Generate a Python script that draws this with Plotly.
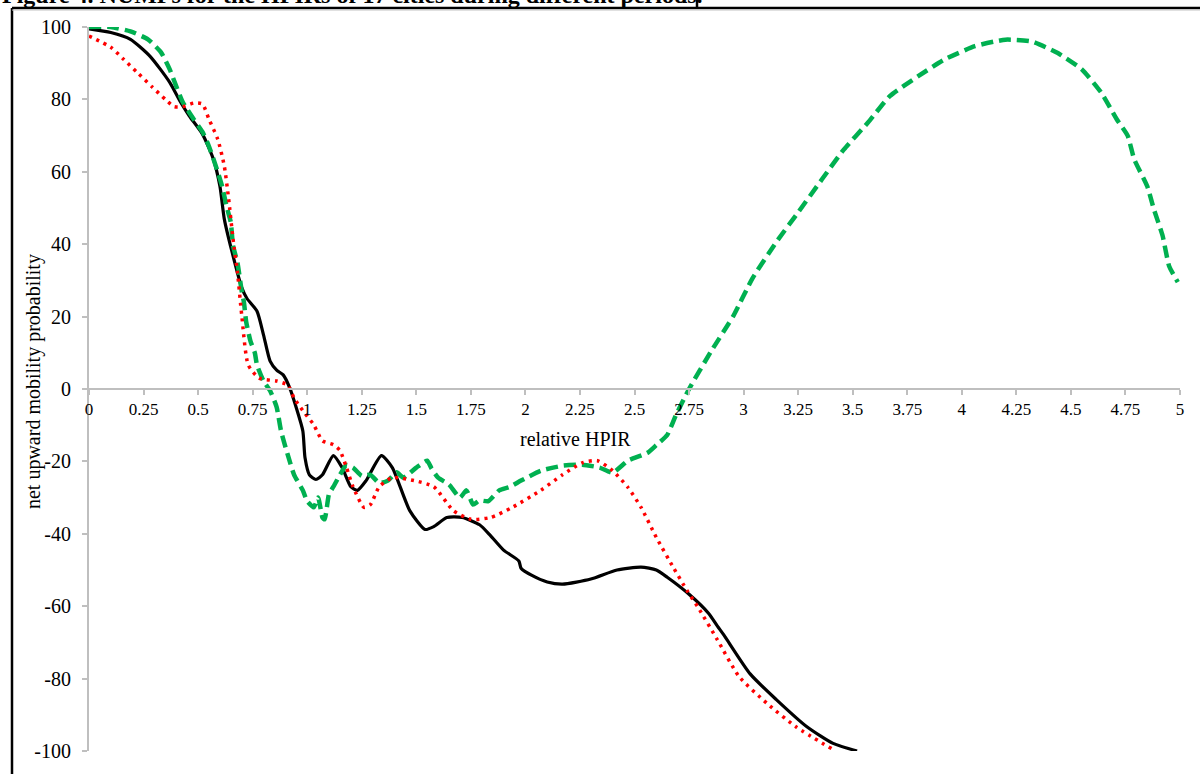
import plotly.graph_objects as go

# Net upward mobility probability (NUMP) against relative HPIR, three periods
black_x = [0, 0.1, 0.19, 0.28, 0.37, 0.42, 0.46, 0.52, 0.57, 0.60, 0.62, 0.655, 0.70, 0.724,
           0.77, 0.80, 0.83, 0.86, 0.89, 0.92, 0.95, 0.98, 0.99, 1.01, 1.04, 1.07, 1.12, 1.16,
           1.20, 1.23, 1.27, 1.34, 1.39, 1.47, 1.54, 1.58, 1.64, 1.71, 1.79, 1.84, 1.90, 1.97,
           1.98, 2.03, 2.10, 2.17, 2.30, 2.42, 2.53, 2.60, 2.65, 2.75, 2.84, 2.88, 2.91, 3.03,
           3.15, 3.29, 3.41, 3.52]
black_y = [99.5, 98.5, 96.6, 91.9, 84.7, 79.2, 75.4, 70.4, 63.5, 56, 47, 38, 28, 25,
           21.5, 14.9, 7.7, 5.2, 3.9, 0.3, -5.2, -11.6, -19, -23.7, -25, -23.7, -18.4, -21.7,
           -27, -28, -25.3, -18.4, -21.7, -33.6, -38.8, -38, -35.5, -35.5, -37.5, -40.5, -44.5, -47.5,
           -49.5, -51.5, -53.3, -53.9, -52.5, -50, -49.2, -50, -52, -56.7, -62, -65.5, -68, -78.7,
           -85.8, -93.3, -97.9, -100]

red_x = [0, 0.1, 0.16, 0.22, 0.29, 0.35, 0.39, 0.43, 0.48, 0.52, 0.55, 0.59, 0.62, 0.64,
         0.66, 0.68, 0.70, 0.73, 0.78, 0.86, 0.91, 0.94, 0.98, 1.03, 1.07, 1.12, 1.15, 1.18,
         1.21, 1.26, 1.29, 1.33, 1.39, 1.49, 1.58, 1.67, 1.75, 1.84, 1.94, 2.07, 2.17, 2.26,
         2.33, 2.40, 2.47, 2.53, 2.60, 2.68, 2.74, 2.79, 2.88, 2.98, 3.11, 3.24, 3.41]
red_y = [97.5, 94.4, 91, 87.5, 83.4, 80, 78, 78, 79, 78.7, 74.5, 69, 61.6, 52.5,
         41.5, 32.5, 20.4, 6.6, 3, 2.2, 1.1, -2.5, -6, -9.9, -14.3, -15.4, -17, -21.7,
         -27, -32.7, -31.9, -27, -24.5, -25.3, -27, -33.6, -36, -35.5, -32.7, -28, -23.7, -20.4,
         -19.8, -22.6, -27.2, -32.7, -41, -49.5, -55.6, -60.2, -69.3, -79.5, -87, -93.3, -99.6]

green_x = [0, 0.1, 0.19, 0.27, 0.33, 0.37, 0.40, 0.43, 0.48, 0.52, 0.55, 0.59, 0.61, 0.63,
           0.65, 0.66, 0.68, 0.70, 0.71, 0.72, 0.74, 0.76, 0.77, 0.80, 0.83, 0.86, 0.88, 0.91,
           0.94, 0.98, 1.00, 1.03, 1.05, 1.07, 1.08, 1.10, 1.12, 1.15, 1.18, 1.21, 1.25, 1.29,
           1.33, 1.37, 1.41, 1.44, 1.50, 1.55, 1.57, 1.60, 1.65, 1.70, 1.73, 1.76, 1.79, 1.83,
           1.88, 1.93, 1.98, 2.07, 2.17, 2.26, 2.34, 2.40, 2.47, 2.56, 2.60, 2.65, 2.69, 2.75,
           2.85, 2.955, 3.04, 3.15, 3.25, 3.36, 3.46, 3.57, 3.67, 3.80, 3.92, 4.06, 4.20, 4.32,
           4.44, 4.55, 4.64, 4.71, 4.76, 4.79, 4.85, 4.88, 4.92, 4.95, 4.99]
green_y = [100, 100, 98.8, 96.6, 93, 88.3, 83.6, 79.2, 74.5, 71, 67, 60, 56, 50.6,
           46, 39.6, 35, 27, 24, 18.7, 13.2, 10, 6.6, 2.2, -0.5, -5, -11.6, -18,
           -23.7, -28, -31, -32.7, -30, -35.5, -36, -29, -27, -23.7, -21, -21.7, -24, -23.7,
           -26, -25.3, -23, -24.5, -21.7, -19.8, -22, -24.5, -26.4, -30, -28, -31.9, -30.8, -31,
           -28, -27, -25.3, -22.6, -21.2, -20.9, -21.7, -23.1, -19.8, -17.6, -15.5, -12.7, -7.2, 0,
           10.3, 20.4, 30.5, 40.6, 48.8, 58, 66.2, 73.6, 80.9, 86.4, 91, 94.7, 96.5, 96,
           92.8, 88.3, 81.8, 74.5, 70, 63.5, 56, 49.7, 42.4, 34, 29.5]

x_ticks = [0, 0.25, 0.5, 0.75, 1, 1.25, 1.5, 1.75, 2, 2.25, 2.5, 2.75, 3, 3.25, 3.5, 3.75,
           4, 4.25, 4.5, 4.75, 5]
x_tick_labels = ["0", "0.25", "0.5", "0.75", "1", "1.25", "1.5", "1.75", "2", "2.25", "2.5",
                 "2.75", "3", "3.25", "3.5", "3.75", "4", "4.25", "4.5", "4.75", "5"]
y_ticks = [-100, -80, -60, -40, -20, 0, 20, 40, 60, 80, 100]
y_tick_labels = ["-100", "-80", "-60", "-40", "-20", "0", "20", "40", "60", "80", "100"]

SERIF = "Liberation Serif, Times New Roman, serif"
AXIS_GREY = "#BFBFBF"

fig = go.Figure()
fig.add_trace(go.Scatter(x=black_x, y=black_y, mode="lines",
                         line=dict(color="black", width=3.2, shape="spline", smoothing=0.6)))
fig.add_trace(go.Scatter(x=green_x, y=green_y, mode="lines",
                         line=dict(color="#00B050", width=4.5, dash="12px,6px",
                                   shape="spline", smoothing=0.5)))
fig.add_trace(go.Scatter(x=red_x, y=red_y, mode="lines",
                         line=dict(color="#FF0000", width=3.5, dash="3px,5px",
                                   shape="spline", smoothing=0.6)))

L, R, T, B = 89, 20, 27, 20
W, H = 1200, 774
pw, ph = W - L - R, H - T - B


def px_x(p):
    return (p - L) / pw


def px_y(p):
    return (H - B - p) / ph


fig.update_layout(
    width=W, height=H,
    margin=dict(l=L, r=R, t=T, b=B, pad=0),
    paper_bgcolor="white", plot_bgcolor="white",
    showlegend=False,
    font=dict(family=SERIF, size=17, color="black"),
    xaxis=dict(range=[0, 5], anchor="free", position=0.5,
               tickmode="array", tickvals=x_ticks, ticktext=x_tick_labels,
               showline=True, linecolor=AXIS_GREY, linewidth=2,
               ticks="outside", ticklen=5, tickwidth=1.5, tickcolor=AXIS_GREY,
               showgrid=False, zeroline=False,
               tickfont=dict(family=SERIF, size=17, color="black")),
    yaxis=dict(range=[-100, 100], tickmode="array", tickvals=y_ticks, ticktext=y_tick_labels,
               showline=True, linecolor=AXIS_GREY, linewidth=2,
               ticks="outside", ticklen=5, tickwidth=1.5, tickcolor=AXIS_GREY,
               ticklabelstandoff=7,
               showgrid=False, zeroline=False,
               tickfont=dict(family=SERIF, size=20, color="black")),
)

# axis titles
fig.add_annotation(x=px_x(575), y=px_y(441), xref="paper", yref="paper",
                   text="relative HPIR", showarrow=False,
                   font=dict(family=SERIF, size=20, color="black"))
fig.add_annotation(x=px_x(20), y=px_y(383), xref="paper", yref="paper",
                   text="net upward mobility probability", showarrow=False, textangle=-90,
                   font=dict(family=SERIF, size=20, color="black"))

# figure caption above the frame
fig.add_annotation(x=px_x(0), y=px_y(10), xref="paper", yref="paper",
                   xanchor="left", yanchor="bottom",
                   text="<b>Figure 4. NUMPs for the HPIRs of 17 cities during different periods.</b>",
                   showarrow=False, font=dict(family=SERIF, size=24, color="black"))

# frame around the chart
frame = dict(type="line", xref="paper", yref="paper", line=dict(color="black", width=2.5))
fig.add_shape(x0=px_x(12), x1=px_x(1215), y0=px_y(8), y1=px_y(8), **frame)
fig.add_shape(x0=px_x(12), x1=px_x(12), y0=px_y(8), y1=px_y(790), **frame)
fig.add_shape(x0=px_x(697), x1=px_x(697), y0=px_y(-5), y1=px_y(8), **frame)
fig.add_shape(type="line", xref="paper", yref="paper", x0=px_x(12), x1=px_x(1215),
              y0=px_y(10), y1=px_y(10), line=dict(color="#C8C8C8", width=1))

fig.write_html("out.html")
